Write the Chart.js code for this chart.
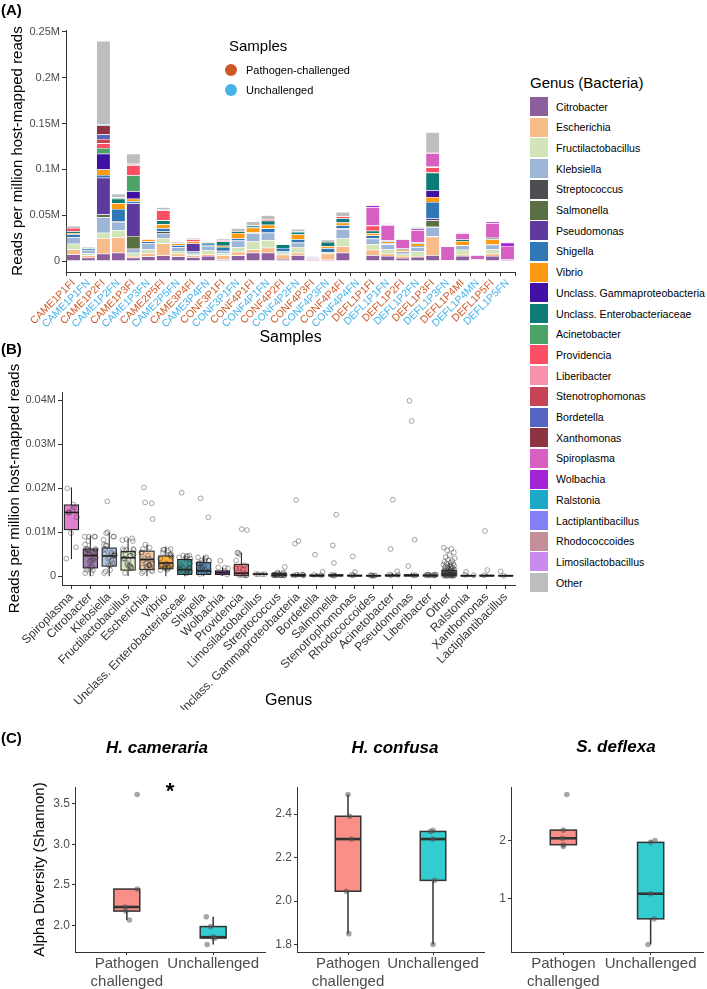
<!DOCTYPE html>
<html><head><meta charset="utf-8">
<script src="https://cdn.jsdelivr.net/npm/chart.js@4.4.1/dist/chart.umd.min.js"></script>
<style>
html,body{margin:0;padding:0;background:#fff;}
#page{position:relative;width:707px;height:989px;overflow:hidden;font-family:"Liberation Sans",Arial,sans-serif;color:#000;}
canvas{position:absolute;}
.t{position:absolute;white-space:nowrap;line-height:1;}
.vc{transform:translate(0,-50%);}
.cc{transform:translate(-50%,-50%);}
</style></head><body><div id="page">
<canvas id="cA" width="520" height="347" style="left:0;top:0"></canvas>
<canvas id="cB" width="520" height="370" style="left:0;top:340px"></canvas>
<canvas id="cC1" width="272" height="262" style="left:0;top:727px"></canvas>
<canvas id="cC2" width="260" height="262" style="left:230px;top:727px"></canvas>
<canvas id="cC3" width="267" height="262" style="left:440px;top:727px"></canvas>
<div class="t" style="left:1px;top:2px;font-weight:bold;font-size:15px">(A)</div>
<div class="t" style="left:1px;top:341px;font-weight:bold;font-size:15px">(B)</div>
<div class="t" style="left:1px;top:730px;font-weight:bold;font-size:15px">(C)</div>
<div id="sampleLegend"></div>
<div id="genusLegend"></div>
<div class="t cc" style="left:157px;top:747px;font-weight:bold;font-style:italic;font-size:17px">H. cameraria</div>
<div class="t cc" style="left:395px;top:747px;font-weight:bold;font-style:italic;font-size:17px">H. confusa</div>
<div class="t cc" style="left:616px;top:746px;font-weight:bold;font-style:italic;font-size:17px">S. deflexa</div>
<div class="t cc" style="left:170px;top:791px;font-weight:bold;font-size:22px">*</div>
</div>
<script>
// ---------------- DATA ----------------
const samples = ['CAME1P1FI','CAME1P1FN','CAME1P2FI','CAME1P2FN','CAME1P3FI','CAME1P3FN','CAME2P5FI','CAME2P5FN','CAME3P4FI','CAME3P4FN',
  'CONF3P1FI','CONF3P1FN','CONF4P1FI','CONF4P1FN','CONF4P2FI','CONF4P2FN','CONF4P3FI','CONF4P3FN','CONF4P4FI','CONF4P4FN',
  'DEFL1P1FI','DEFL1P1FN','DEFL1P2FI','DEFL1P2FN','DEFL1P3FI','DEFL1P3FN','DEFL1P4MI','DEFL1P4MN','DEFL1P5FI','DEFL1P5FN'];
const sampleGroups = ['Pathogen-challenged','Unchallenged'];
const genera = ['Citrobacter','Escherichia','Fructilactobacillus','Klebsiella','Streptococcus','Salmonella','Pseudomonas','Shigella','Vibrio',
  'Unclass. Gammaproteobacteria','Unclass. Enterobacteriaceae','Acinetobacter','Providencia','Liberibacter','Stenotrophomonas','Bordetella',
  'Xanthomonas','Spiroplasma','Wolbachia','Ralstonia','Lactiplantibacillus','Rhodococcoides','Limosilactobacillus','Other'];

// reads per million host-mapped reads, one value per sample
const citrobacter = [7200,3600,8000,9000,3600,5000,6000,5000,4000,5500, 2000,6000,9000,9000,2200,6200,1400,1400,9000,0, 6200,5400,3300,4300,6200,700,5400,700,5400,1800];
const escherichia = [5400,2500,16800,16600,1800,3500,13000,3000,2000,2000, 4000,4000,3600,5400,4700,2900,1100,6500,7200,0, 6200,2500,2200,1100,20200,0,1400,700,2500,0];
const fructilactobacillus = [6200,2200,6000,8000,3600,4000,6000,3000,2000,4000, 2500,5000,8600,8200,2200,6200,0,1800,8400,0, 5800,4700,2500,5000,700,0,5400,0,4700,0];
const klebsiella = [7200,3600,17000,9000,4300,7000,5000,4000,3000,5000, 2500,7000,9000,8300,1400,4700,1100,0,10000,0, 6200,5400,2500,4700,9800,0,4700,700,5000,0];
const streptococcus = [300,0,0,700,0,200,2100,200,0,300, 200,300,800,300,0,200,0,0,800,0, 300,200,0,300,500,0,200,0,300,0];
const salmonella = [0,0,3000,0,14000,0,0,0,0,0, 0,200,0,0,0,0,0,0,100,0, 300,0,0,0,7000,0,0,0,0,0];
const pseudomonas = [0,0,39900,0,35300,0,0,0,8300,0, 0,0,200,0,0,0,0,0,0,0, 0,200,0,0,2300,0,0,0,0,0];
const shigella = [2900,1400,3000,13400,2500,1500,3500,2000,0,2000, 4000,2000,0,4300,3600,3600,500,4300,3600,0, 2900,1100,0,1100,17700,0,0,0,0,0];
const vibrio = [1400,0,6000,6200,2900,2500,4500,2000,2000,0, 1500,6000,5000,4000,0,5000,0,2200,2500,0, 2500,1800,1800,2500,5400,0,4700,0,5800,0];
const unclassGammaproteobacteria = [0,0,17300,300,8000,0,200,0,0,0, 0,0,400,0,0,0,0,0,300,0, 200,0,0,0,7400,0,0,0,0,0];
const unclassEnterobacteriaceae = [1800,700,0,4700,0,0,4000,0,0,1500, 4500,2000,1800,4300,4000,2900,0,4600,4700,0, 2500,1100,1000,1100,19000,0,1800,0,1400,0];
const acinetobacter = [0,0,6200,1100,17400,0,300,0,0,0, 0,0,0,0,0,0,0,0,200,0, 0,0,0,0,400,0,0,0,0,0];
const providencia = [3600,0,5000,200,10700,0,10500,0,2500,0, 1500,300,500,1800,0,200,0,0,1800,0, 5300,0,300,0,5300,0,0,0,200,0];
const liberibacter = [0,0,300,0,200,0,400,0,200,0, 0,0,300,0,0,200,0,0,300,0, 200,0,0,0,400,0,0,0,0,0];
const stenotrophomonas = [0,0,4500,0,1000,0,0,0,0,0, 0,0,0,0,0,0,0,0,200,0, 0,0,0,0,300,0,0,0,0,0];
const bordetella = [0,0,4900,0,0,0,1000,0,0,0, 0,0,200,0,0,0,0,0,0,0, 0,0,0,0,300,0,0,0,0,0];
const xanthomonas = [0,0,10300,0,1400,0,0,0,0,0, 0,0,0,0,0,0,0,0,0,0, 0,0,0,0,200,0,0,0,0,0];
const spiroplasma = [0,0,0,0,0,0,0,0,0,0, 0,0,0,0,0,0,0,0,0,0, 20000,16300,9800,13400,14500,15000,6600,4000,15600,14500];
const wolbachia = [0,0,0,0,0,0,0,0,0,0, 0,0,0,0,0,0,0,0,0,0, 2000,1200,700,1800,0,0,400,0,1900,3500];
const ralstonia = [0,0,1000,0,0,0,200,0,0,0, 0,0,0,0,0,0,0,0,0,0, 0,0,0,0,300,0,0,0,0,0];
const lactiplantibacillus = [0,0,0,0,0,0,0,0,0,0, 0,0,0,0,0,0,0,0,0,0, 0,0,0,0,0,0,0,1100,0,100];
const rhodococcoides = [0,0,200,0,100,0,0,0,0,0, 200,0,0,0,0,0,0,0,100,0, 0,0,0,0,200,0,0,0,0,0];
const limosilactobacillus = [0,0,0,0,0,0,0,0,0,0, 0,0,0,0,0,0,0,0,0,0, 500,400,0,0,0,0,500,0,0,450];
const otherGenera = [2200,1400,90600,4300,10100,500,2000,1500,1000,1000, 1500,3000,3600,4300,700,2900,1100,2500,4300,500, 0,700,0,1400,22400,200,0,0,0,0];

const yTickValuesA = [0,50000,100000,150000,200000,250000];
const yTickLabelsA = ['0','0.05M','0.1M','0.15M','0.2M','0.25M'];

// Panel B (genus ranking)
const genusOrderB = ['Spiroplasma','Citrobacter','Klebsiella','Fructilactobacillus','Escherichia','Vibrio','Unclass. Enterobacteriaceae',
  'Shigella','Wolbachia','Providencia','Limosilactobacillus','Streptococcus','Unclass. Gammaproteobacteria','Bordetella','Salmonella',
  'Stenotrophomonas','Rhodococcoides','Acinetobacter','Pseudomonas','Liberibacter','Other','Ralstonia','Xanthomonas','Lactiplantibacillus'];
const boxLowB  = [3900,0,0,0,0,0,0,0,100,0,420,0,0,0,0,0,0,0,0,0,0,0,0,0];
const boxQ1B   = [10600,1900,2300,1400,1500,1700,400,400,400,200,440,100,50,50,50,50,50,50,50,50,150,50,50,50];
const boxMedB  = [14500,4700,4600,4200,3800,3000,1500,1200,800,700,470,300,150,100,150,100,100,150,150,150,500,100,100,100];
const boxQ3B   = [16200,6200,6400,5600,5700,4600,3800,3100,1200,2700,500,600,400,300,350,250,200,300,350,300,1300,200,250,200];
const boxHighB = [20200,9300,10000,8600,7200,6800,4700,4700,2000,5300,540,1300,900,700,800,600,400,700,800,600,3000,500,600,400];
const otherGenusPointsB = [6500,6200,5900,5400,4800,4400,4100,3700,3500,3300,3100,2900,2800,2600,2500,2400,2200,2100,2000,1900,
  1800,1700,1600,1500,1450,1400,1300,1250,1200,1100,1050,1000,950,900,850,800,750,700,650,600,
  550,500,480,450,420,400,380,350,320,300,280,250,220,200,180,150,120,100,80,50];
const jitterB = [-0.28,0.12,-0.1,0.25,0.02,-0.18,0.3,-0.05,0.17,-0.25,0.08,-0.14,0.22,-0.3,0.05,
  0.27,-0.2,0.14,-0.08,0.19,-0.22,0.1,-0.03,0.29,-0.16,0.06,0.24,-0.27,0.13,-0.11];
const yTickValuesB = [0,10000,20000,30000,40000];
const yTickLabelsB = ['0','0.01M','0.02M','0.03M','0.04M'];

// Panel C (Shannon alpha diversity)
const groupLabelsC = [['Pathogen','challenged'],'Unchallenged'];
const camerariaPathogen = [3.61,2.45,2.23,2.18,2.07];
const camerariaUnchallenged = [2.11,1.99,1.86,1.85,1.77];
const confusaPathogen = [2.49,2.39,2.285,2.045,1.85];
const confusaUnchallenged = [2.325,2.32,2.285,2.095,1.80];
const deflexaPathogen = [2.79,2.18,2.04,1.93,1.90];
const deflexaUnchallenged = [2.0,1.97,1.09,0.66,0.22];
const yTicksC1 = [2.0,2.5,3.0,3.5], yTickLabelsC1 = ['2.0','2.5','3.0','3.5'];
const yTicksC2 = [1.8,2.0,2.2,2.4], yTickLabelsC2 = ['1.8','2.0','2.2','2.4'];
const yTicksC3 = [1,2], yTickLabelsC3 = ['1','2'];
const jitterC1 = [[0.12,0.12,-0.02,-0.01,0.03],[-0.08,-0.03,0.0,0.02,-0.07]];
const jitterC2 = [[0.0,0.02,0.04,-0.02,0.01],[0.0,-0.03,0.0,0.02,0.0]];
const jitterC3 = [[0.04,0.0,-0.01,0.0,0.0],[0.05,0.0,0.0,0.04,-0.03]];

// ---------------- STYLE ----------------
const genusColors = ['#8C5E9E','#F7BC8A','#D3E4B9','#9DB5D6','#4C4E52','#5A7043','#5E3A9E','#2F78B5','#FD9A12','#4111A6',
  '#0E7C76','#4BA367','#FD4F64','#F591AA','#C64455','#5664C4','#8E3341','#D760C2','#A324D6','#1CA9C8','#8480FA','#C3909A','#C98CEC','#BEBEBE'];
const groupColors = ['#CC5A28','#45B3E8'];
const genusSeries = [citrobacter,escherichia,fructilactobacillus,klebsiella,streptococcus,salmonella,pseudomonas,shigella,vibrio,
  unclassGammaproteobacteria,unclassEnterobacteriaceae,acinetobacter,providencia,liberibacter,stenotrophomonas,bordetella,
  xanthomonas,spiroplasma,wolbachia,ralstonia,lactiplantibacillus,rhodococcoides,limosilactobacillus,otherGenera];

Chart.defaults.font.family = '"Liberation Sans", Arial, sans-serif';
Chart.defaults.animation = false;
Chart.defaults.responsive = false;
Chart.defaults.devicePixelRatio = 1;
Chart.defaults.plugins.legend.display = false;
Chart.defaults.plugins.tooltip.enabled = false;

const AX = '#333333', TK = '#4D4D4D';
function gridOpt(len){ return {display:true, drawOnChartArea:false, drawTicks:true, tickLength:len, color:AX, lineWidth:1}; }
const borderOpt = {display:true, color:AX, width:1};

function boxPlugin(items, cfg){
  return {
    id:'boxes',
    beforeDatasetsDraw(chart){
      const {ctx} = chart; const x = chart.scales.x, y = chart.scales.y;
      ctx.save();
      items.forEach(it => {
        const xl = x.getPixelForValue(it.pos - cfg.width/2), xr = x.getPixelForValue(it.pos + cfg.width/2), xc = x.getPixelForValue(it.pos);
        const lo = y.getPixelForValue(it.stats[0]), q1 = y.getPixelForValue(it.stats[1]), md = y.getPixelForValue(it.stats[2]),
              q3 = y.getPixelForValue(it.stats[3]), hi = y.getPixelForValue(it.stats[4]);
        ctx.strokeStyle = cfg.line; ctx.lineWidth = cfg.lineWidth;
        ctx.beginPath(); ctx.moveTo(xc,q3); ctx.lineTo(xc,hi); ctx.moveTo(xc,q1); ctx.lineTo(xc,lo); ctx.stroke();
        ctx.fillStyle = it.fill; ctx.fillRect(xl,q3,xr-xl,q1-q3);
        ctx.strokeRect(xl,q3,xr-xl,q1-q3);
        ctx.lineWidth = cfg.medianWidth;
        ctx.beginPath(); ctx.moveTo(xl,md); ctx.lineTo(xr,md); ctx.stroke();
      });
      ctx.restore();
    }
  };
}
function hexA(h,a){ const n=parseInt(h.slice(1),16); return `rgba(${n>>16&255},${n>>8&255},${n&255},${a})`; }

// ---------------- PANEL A ----------------
const totalsA = samples.map((s,i)=>genusSeries.reduce((a,arr)=>a+arr[i],0));
const maxA = Math.max(...totalsA);
new Chart(document.getElementById('cA'), {
  type:'bar',
  data:{ labels:samples, datasets: genera.map((g,i)=>({label:g, data:genusSeries[i], backgroundColor:genusColors[i],
      borderColor:'#ffffff', borderWidth:0.5, barPercentage:0.93, categoryPercentage:1})) },
  options:{
    layout:{padding:{top:30,right:5,left:0,bottom:0}},
    scales:{
      x:{stacked:true, grid:gridOpt(4), border:borderOpt,
        ticks:{autoSkip:false, minRotation:45, maxRotation:45, padding:1, font:{size:10.5},
          color:c=> samples[c.index] && samples[c.index].endsWith('I') ? groupColors[0] : groupColors[1]},
        title:{display:true, text:'Samples', color:'#000', font:{size:16}, padding:{top:0,bottom:0}},
        afterFit:s=>{s.height=75;}},
      y:{stacked:true, min:-0.05*maxA, max:1.05*maxA, grid:gridOpt(4), border:borderOpt,
        afterBuildTicks:s=>{s.ticks = yTickValuesA.map(v=>({value:v}));},
        ticks:{color:TK, font:{size:11}, padding:2, callback:v=>yTickLabelsA[yTickValuesA.indexOf(v)]},
        title:{display:true, text:'Reads per million host-mapped reads', color:'#000', font:{size:15}, padding:{top:9,bottom:0}},
        afterFit:s=>{s.width=66;}}
    }
  }
});

// ---------------- PANEL B ----------------
const pointsB = [];
genusOrderB.forEach((g,i)=>{
  const vals = g==='Other' ? otherGenusPointsB : genusSeries[genera.indexOf(g)];
  vals.forEach((v,k)=>{ if(v>0) pointsB.push({x:i+jitterB[k%jitterB.length], y:v}); });
});
const maxB = Math.max(...pointsB.map(p=>p.y));
const boxItemsB = genusOrderB.map((g,i)=>({pos:i, stats:[boxLowB[i],boxQ1B[i],boxMedB[i],boxQ3B[i],boxHighB[i]],
  fill:hexA(genusColors[genera.indexOf(g)],0.8)}));
new Chart(document.getElementById('cB'), {
  type:'scatter',
  data:{datasets:[{data:pointsB, pointRadius:2.4, pointBackgroundColor:'rgba(0,0,0,0)', pointBorderColor:'rgba(50,50,50,0.55)', pointBorderWidth:0.8}]},
  plugins:[boxPlugin(boxItemsB,{width:0.75, line:'#1a1a1a', lineWidth:1, medianWidth:1.6})],
  options:{
    layout:{padding:{top:52,right:3,left:0,bottom:0}},
    scales:{
      x:{type:'linear', min:-0.5, max:genusOrderB.length-0.5, grid:gridOpt(4), border:borderOpt,
        afterBuildTicks:s=>{s.ticks = genusOrderB.map((g,i)=>({value:i}));},
        ticks:{autoSkip:false, minRotation:45, maxRotation:45, padding:1, color:'#333', font:{size:12}, callback:v=>genusOrderB[v]},
        title:{display:true, text:'Genus', color:'#000', font:{size:16}, padding:{top:0,bottom:0}},
        afterFit:s=>{s.height=125;}},
      y:{min:-0.05*maxB, max:1.05*maxB, grid:gridOpt(4), border:borderOpt,
        afterBuildTicks:s=>{s.ticks = yTickValuesB.map(v=>({value:v}));},
        ticks:{color:TK, font:{size:11}, padding:2, callback:v=>yTickLabelsB[yTickValuesB.indexOf(v)]},
        title:{display:true, text:'Reads per million host-mapped reads', color:'#000', font:{size:15}, padding:{top:6,bottom:0}},
        afterFit:s=>{s.width=62;}}
    }
  }
});

// ---------------- PANEL C ----------------
function quant(sorted,p){ const h=(sorted.length-1)*p, f=Math.floor(h); return f+1<sorted.length ? sorted[f]+(h-f)*(sorted[f+1]-sorted[f]) : sorted[f]; }
function boxStats(vals){
  const s=[...vals].sort((a,b)=>a-b); const q1=quant(s,0.25), md=quant(s,0.5), q3=quant(s,0.75), iqr=q3-q1;
  const lo=Math.min(...s.filter(v=>v>=q1-1.5*iqr)), hi=Math.max(...s.filter(v=>v<=q3+1.5*iqr));
  return [lo,q1,md,q3,hi];
}
const fillsC = ['rgba(248,118,109,0.82)','rgba(0,191,196,0.8)'];
function makeC(id, groups, jit, ticks, tickLabels, yWidth, padRight, withTitle){
  const all = groups.flat(); const mn=Math.min(...all), mx=Math.max(...all), r=mx-mn;
  const pts=[]; groups.forEach((g,gi)=>g.forEach((v,k)=>pts.push({x:gi+1+jit[gi][k], y:v})));
  const items = groups.map((g,gi)=>({pos:gi+1, stats:boxStats(g), fill:fillsC[gi]}));
  new Chart(document.getElementById(id), {
    type:'scatter',
    data:{datasets:[{data:pts, pointRadius:2.8, pointBackgroundColor:'rgba(80,80,80,0.5)', pointBorderWidth:0}]},
    plugins:[boxPlugin(items,{width:0.3, line:'#333', lineWidth:1.5, medianWidth:2.6})],
    options:{
      layout:{padding:{top:60,right:padRight,left:0,bottom:0}},
      scales:{
        x:{type:'linear', min:0.4, max:2.6, grid:gridOpt(3), border:borderOpt,
          afterBuildTicks:s=>{s.ticks=[{value:1},{value:2}];},
          ticks:{autoSkip:false, minRotation:0, maxRotation:0, padding:0, color:TK, font:{size:15}, callback:v=>groupLabelsC[v-1]},
          afterFit:s=>{s.height=37;}},
        y:{min:mn-0.05*r, max:mx+0.05*r, grid:gridOpt(3), border:borderOpt,
          afterBuildTicks:s=>{s.ticks=ticks.map(v=>({value:v}));},
          ticks:{color:TK, font:{size:12}, padding:2, callback:v=>tickLabels[ticks.indexOf(v)]},
          title:{display:withTitle, text:'Alpha Diversity (Shannon)', color:'#000', font:{size:15}, padding:{top:31,bottom:0}},
          afterFit:s=>{s.width=yWidth;}}
      }
    }
  });
}
makeC('cC1',[camerariaPathogen,camerariaUnchallenged],jitterC1,yTicksC1,yTickLabelsC1,75,7,true);
makeC('cC2',[confusaPathogen,confusaUnchallenged],jitterC2,yTicksC2,yTickLabelsC2,67,6,false);
makeC('cC3',[deflexaPathogen,deflexaUnchallenged],jitterC3,yTicksC3,yTickLabelsC3,71,1,false);

// ---------------- LEGENDS ----------------
const sl = document.getElementById('sampleLegend');
let h = '<div class="t vc" style="left:229px;top:45px;font-size:15px">Samples</div>';
sampleGroups.forEach((g,i)=>{
  const y = 70 + i*20;
  h += `<div style="position:absolute;left:225px;top:${y-6}px;width:12px;height:12px;border-radius:50%;background:${groupColors[i]}"></div>`;
  h += `<div class="t vc" style="left:246px;top:${y}px;font-size:11px">${g}</div>`;
});
sl.innerHTML = h;
const gl = document.getElementById('genusLegend');
h = '<div class="t vc" style="left:530px;top:82px;font-size:15px">Genus (Bacteria)</div>';
genera.forEach((g,i)=>{
  const top = 97 + i*20.7;
  h += `<div style="position:absolute;left:530px;top:${top}px;width:18px;height:19px;background:${genusColors[i]}"></div>`;
  h += `<div class="t vc" style="left:556px;top:${top+9.5}px;font-size:10.6px">${g}</div>`;
});
gl.innerHTML = h;
</script>
</body></html>
